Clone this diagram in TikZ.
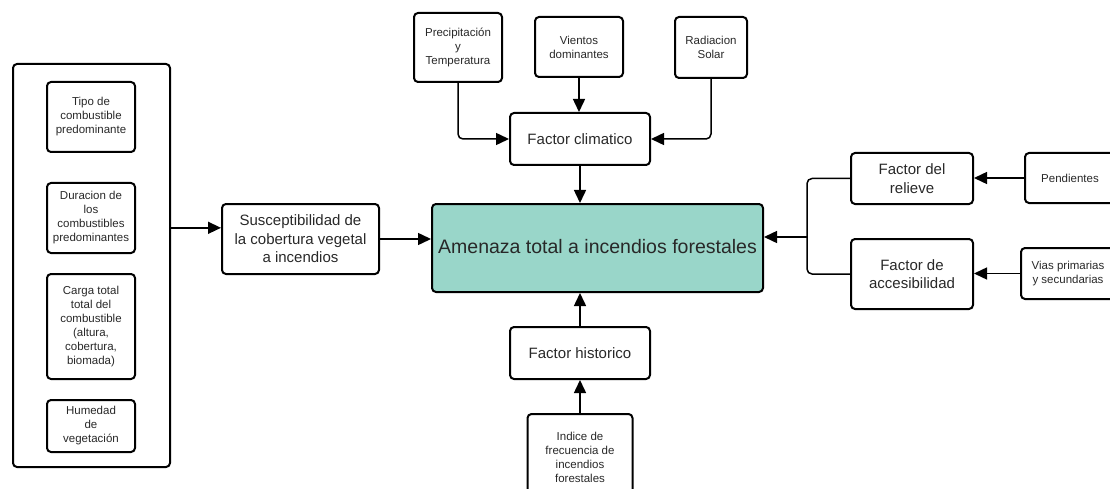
\documentclass[tikz,border=0pt]{standalone}
\usepackage{fontspec}
\setmainfont{Liberation Sans}
\usetikzlibrary{arrows.meta}
\definecolor{verdeagua}{RGB}{153,214,201}
\definecolor{texto}{RGB}{40,40,40}

\begin{document}
\begin{tikzpicture}[x=1pt,y=-1pt,
  caja/.style={draw, line width=2pt, rounded corners=4pt, inner sep=0pt, align=center, text=texto},
  chica/.style={caja, font=\fontsize{11.5}{14}\selectfont},
  media/.style={caja, font=\fontsize{15}{18.5}\selectfont},
  flecha/.style={line width=1.5pt, rounded corners=5pt, -{Triangle[length=13pt,width=12pt]}},
  linea/.style={line width=1.5pt, rounded corners=5pt}]

\useasboundingbox (0,0) rectangle (1110,489);

% Left group of vegetation factors
\node[caja, minimum width=157pt, minimum height=403pt] (grupo) at (91.5,265.5) {};
\node[chica, minimum width=88pt, minimum height=70pt] (tipo) at (91,117) {Tipo de\\combustible\\predominante};
\node[chica, minimum width=88pt, minimum height=70pt] (duracion) at (91,218) {Duracion de\\los\\combustibles\\predominantes};
\node[chica, minimum width=88pt, minimum height=105pt] (carga) at (91,326.5) {Carga total\\total del\\combustible\\(altura,\\cobertura,\\biomada)};
\node[chica, minimum width=88pt, minimum height=52pt] (humedad) at (91,426) {Humedad\\de\\vegetación};

% Central nodes
\node[media, minimum width=157pt, minimum height=70pt] (susc) at (300.5,239) {Susceptibilidad de\\la cobertura vegetal\\a incendios};
\node[caja, fill=verdeagua, minimum width=331pt, minimum height=88pt, font=\fontsize{19.5}{23}\selectfont] (amenaza) at (597.5,248) {\raisebox{3pt}{Amenaza total a incendios forestales}};

% Climate factors (top)
\node[chica, minimum width=88pt, minimum height=69pt] (precip) at (458,47.5) {Precipitación\\y\\Temperatura};
\node[chica, minimum width=88pt, minimum height=60pt] (vientos) at (579,47) {Vientos\\dominantes};
\node[chica, minimum width=72pt, minimum height=61pt] (radiacion) at (711,47.5) {Radiacion\\Solar};
\node[media, minimum width=140pt, minimum height=52pt] (climatico) at (580,139) {Factor climatico};

% History factor (bottom)
\node[media, minimum width=140pt, minimum height=52pt] (historico) at (580,353) {Factor historico};
\node[chica, minimum width=105pt, minimum height=86pt] (indice) at (580,457) {Indice de\\frecuencia de\\incendios\\forestales};

% Relief and access factors (right)
\node[media, minimum width=122pt, minimum height=51pt] (relieve) at (912,178.5) {Factor del\\relieve};
\node[media, minimum width=122pt, minimum height=70pt] (acces) at (912,274) {Factor de\\accesibilidad};
\node[chica, minimum width=90pt, minimum height=50pt] (pendientes) at (1070,178) {Pendientes};
\node[chica, minimum width=94pt, minimum height=51pt] (vias) at (1068,273.5) {Vias primarias\\y secundarias};

\coordinate (union) at (807,237);

% Connectors
\draw[flecha] (grupo.east |- susc.172) -- (susc.172);
\draw[flecha] (susc.east) -- (amenaza.west |- susc.east);
\draw[flecha] (precip.south) |- (climatico.west);
\draw[flecha] (vientos.south) -- (vientos.south |- climatico.north);
\draw[flecha] (radiacion.south) |- (climatico.east);
\draw[flecha] (climatico.south) -- (climatico.south |- amenaza.north);
\draw[flecha] (historico.north) -- (historico.north |- amenaza.south);
\draw[flecha] (indice.north) -- (historico.south);
\draw[linea] (relieve.west) -| (union);
\draw[linea] (acces.west) -| (union);
\draw[flecha] (union) -- (amenaza.east |- union);
\draw[flecha] (pendientes.west) -- (pendientes.west -| relieve.east);
\draw[flecha] (vias.west) -- (vias.west -| acces.east);

\end{tikzpicture}
\end{document}
